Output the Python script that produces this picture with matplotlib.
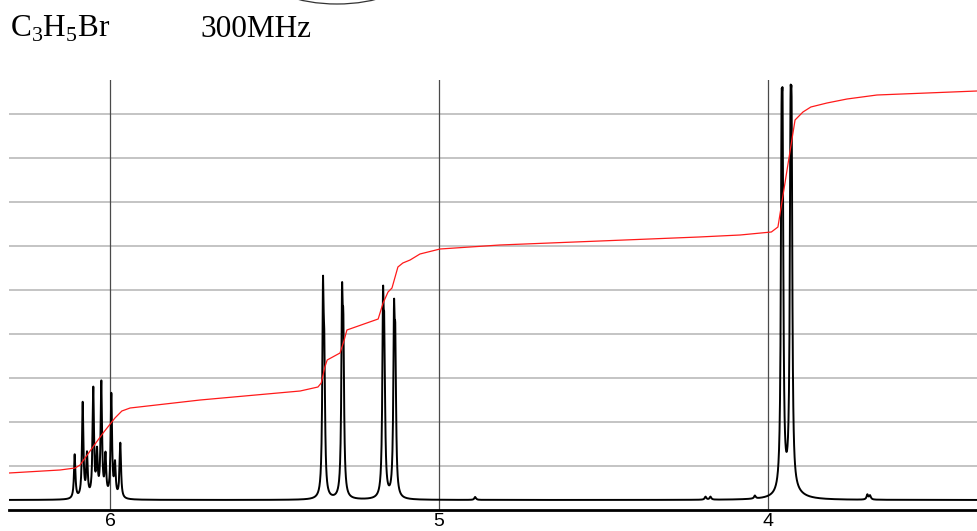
import numpy as np
import matplotlib
matplotlib.use("Agg")
import matplotlib.pyplot as plt
from matplotlib.patches import Arc

plt.rcParams['mathtext.fontset'] = 'custom'
plt.rcParams['mathtext.rm'] = 'Liberation Serif'

# ---------------- data ----------------
title_formula = r'C$_\mathrm{3}$H$_\mathrm{5}$Br'
title_freq = '300MHz'
tick_values = [6, 5, 4]
tick_labels = ['6', '5', '4']
x_range = (6.307, 3.365)          # ppm, left -> right
y_range = (0, 430)                # arbitrary intensity units
grid_levels = [44, 88, 132, 176, 220, 264, 308, 352, 396]
baseline_level = 10

# peaks: position (ppm), height, half width (ppm)
peak_ppm = [6.1073, 6.0830, 6.0699, 6.0508, 6.0395, 6.0264, 6.0137, 5.9960, 5.9848, 5.9687,
            5.3526, 5.3486, 5.2948, 5.2908, 5.1702, 5.1662, 5.1368, 5.1328,
            3.9590, 3.9556, 3.9318, 3.9284, 3.9300,
            4.8900, 4.1900, 4.1750, 4.0400, 3.6980, 3.6900]
peak_height = [44, 95, 42, 108, 42, 114, 40, 103, 32, 55,
               190, 110, 175, 135, 172, 130, 160, 125,
               285, 285, 285, 285, 7,
               3, 3, 3, 3, 5, 4]
peak_width = [0.0026] * 18 + [0.0026] * 4 + [0.035] + [0.003] * 6

# integral trace (ppm, level)
integral_ppm = [6.307, 6.152, 6.106, 6.091, 6.052, 6.021, 5.985, 5.964, 5.939, 5.726,
                5.422, 5.368, 5.358, 5.347, 5.340, 5.301, 5.290, 5.280, 5.185, 5.170,
                5.155, 5.143, 5.125, 5.110, 5.088, 5.058, 4.997, 4.815, 4.511, 4.210,
                4.085, 3.990, 3.970, 3.918,
                3.903, 3.894, 3.870, 3.821, 3.760, 3.669, 3.517, 3.365]
integral_level = [37, 40, 42, 45, 63, 77, 92, 99, 102, 110,
                  119, 123, 127, 143, 150, 157, 168, 180, 191, 207,
                  218, 222, 243, 247, 250, 256, 261, 265, 269, 273,
                  275, 278, 283, 390,
                  395, 398, 403, 407, 411, 415, 417, 419]

# ---------------- figure ----------------
W, H = 977, 531
fig = plt.figure(figsize=(W / 100, H / 100), dpi=100)
ax = fig.add_axes([9 / W, 21 / H, 968 / W, 430 / H])

x = np.linspace(x_range[1], x_range[0], 12000)
y = np.full_like(x, float(baseline_level))
for p, h, g in zip(peak_ppm, peak_height, peak_width):
    y += h * g ** 2 / ((x - p) ** 2 + g ** 2)

for lv in grid_levels:
    ax.axhline(lv, color='#b4b4b4', lw=1.1, zorder=1)
for tv in tick_values:
    ax.axvline(tv, color='#4a4a4a', lw=0.9, zorder=1)

ax.plot(x, y, color='black', lw=1.4, zorder=3)
ax.plot(integral_ppm, integral_level, color='#ff1a1a', lw=0.9, zorder=4)

ax.set_xlim(*x_range)
ax.set_ylim(*y_range)
ax.set_xticks(tick_values)
ax.set_xticklabels(tick_labels, family='Liberation Sans', fontsize=14)
ax.tick_params(axis='x', length=0, pad=2)
ax.set_yticks([])
for s in ['top', 'left', 'right']:
    ax.spines[s].set_visible(False)
ax.spines['bottom'].set_linewidth(2.0)
ax.spines['bottom'].set_color('black')

fig.text(10 / W, 1 - 37 / H, title_formula, family='Liberation Serif',
         fontsize=22.5, va='baseline', ha='left')
fig.text(200 / W, 1 - 37 / H, title_freq, family='Liberation Serif',
         fontsize=22.5, va='baseline', ha='left')

arc = Arc((337 / W, 1 + 26 / H), 146 / W, 60 / H, theta1=180, theta2=360,
          transform=fig.transFigure, color='#333333', lw=0.9, clip_on=False)
fig.add_artist(arc)

fig.savefig('out.png', dpi=100)
